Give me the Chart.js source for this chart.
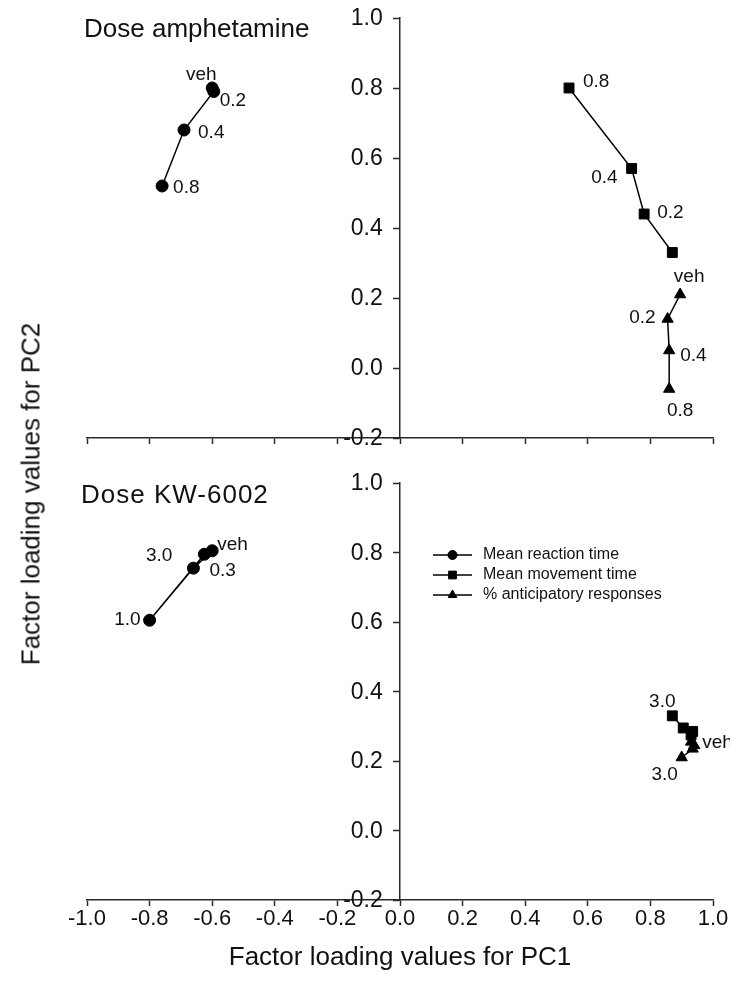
<!DOCTYPE html>
<html>
<head>
<meta charset="utf-8">
<script src="https://cdn.jsdelivr.net/npm/chart.js@4.4.1/dist/chart.umd.min.js"></script>
<style>
  html, body { margin:0; padding:0; background:#fff; width:730px; height:1001px; overflow:hidden;
    font-family:"Liberation Sans", Arial, Helvetica, sans-serif; color:#111; }
  canvas { position:absolute; left:0; }
  #cTop { top:0; }
  #cBot { top:460px; }
  .ptitle { position:absolute; font-size:26px; line-height:30px; white-space:nowrap; }
  #ytitle { position:absolute; left:31px; top:494px; font-size:26px; white-space:nowrap;
    transform: translate(-50%, -50%) rotate(-90deg); }
</style>
</head>
<body>
<canvas id="cTop" width="730" height="460"></canvas>
<canvas id="cBot" width="730" height="541"></canvas>
<div class="ptitle" style="left:84px; top:13px;">Dose amphetamine</div>
<div class="ptitle" style="left:81px; top:479px; letter-spacing:1px;">Dose KW-6002</div>
<div id="ytitle">Factor loading values for PC2</div>
<script>
// ---------- data ----------
const doseAmph = ['veh', '0.2', '0.4', '0.8'];
const doseKW   = ['veh', '0.3', '1.0', '3.0'];
const seriesNames = ['Mean reaction time', 'Mean movement time', '% anticipatory responses'];

const amphRT_pc1 = [-0.60, -0.595, -0.69, -0.76];
const amphRT_pc2 = [0.80, 0.79, 0.68, 0.52];
const amphMT_pc1 = [0.87, 0.78, 0.74, 0.54];
const amphMT_pc2 = [0.33, 0.44, 0.57, 0.80];
const amphAR_pc1 = [0.895, 0.855, 0.86, 0.86];
const amphAR_pc2 = [0.21, 0.14, 0.05, -0.06];

const kwRT_pc1 = [-0.60, -0.66, -0.80, -0.625];
const kwRT_pc2 = [0.805, 0.755, 0.605, 0.795];
const kwMT_pc1 = [0.935, 0.93, 0.905, 0.87];
const kwMT_pc2 = [0.285, 0.275, 0.295, 0.33];
const kwAR_pc1 = [0.94, 0.93, 0.935, 0.90];
const kwAR_pc2 = [0.245, 0.255, 0.235, 0.21];

const xTickRange = [-1.0, 1.0, 0.2];
const yTickRange = [-0.2, 1.0, 0.2];

// ---------- styling ----------
const FONT = '"Liberation Sans", Arial, Helvetica, sans-serif';
const INK = '#111';
const AXIS = '#2a2a2a';
const pointStyles = ['circle', 'rect', 'triangle'];
const pointRadii = [6, 7, 6.5];
const yLabelAnchor = -0.055;   // where the y tick labels end (in PC1 units), left of the axis

// label offsets per series per dose: [dx, dy, align]
const amphLabelPos = [
  [[-11, -13, 'center'], [6, 9, 'left'], [14, 3, 'left'], [11, 2, 'left']],
  [null, [13, -1, 'left'], [-14, 9, 'right'], [14, -6, 'left']],
  [[9, -18, 'center'], [-12, -1, 'right'], [11, 5, 'left'], [11, 22, 'center']]
];
const kwLabelPos = [
  [[5, -6, 'left'], [16, 3, 'left'], [-9, 0, 'right'], [-32, 2, 'right']],
  [null, null, null, [-10, -14, 'center']],
  [[8, -3, 'left'], null, null, [-17, 17, 'center']]
];

function toPts(xs, ys) { return xs.map((x, i) => ({ x: x, y: ys[i] })); }
function fmt(v) { if (Math.abs(v) < 1e-9) v = 0; return v.toFixed(1); }
function noPad(s) { s.paddingTop = 0; s.paddingBottom = 0; s.paddingLeft = 0; s.paddingRight = 0; }

function makeDatasets(sets) {
  return sets.map((s, i) => ({
    label: seriesNames[i],
    data: toPts(s[0], s[1]),
    showLine: true,
    borderColor: '#000',
    borderWidth: 1.5,
    backgroundColor: '#000',
    pointStyle: pointStyles[i],
    pointRadius: pointRadii[i],
    pointHoverRadius: pointRadii[i],
    pointBorderWidth: 1,
    pointBackgroundColor: '#000',
    pointBorderColor: '#000'
  }));
}

const labelPlugin = {
  id: 'pointLabels',
  afterDatasetsDraw(chart, args, opts) {
    const ctx = chart.ctx, xs = chart.scales.x, ys = chart.scales.y;
    ctx.save();
    ctx.font = opts.size + 'px ' + FONT;
    ctx.fillStyle = INK;
    ctx.textBaseline = 'middle';
    chart.data.datasets.forEach((ds, di) => {
      const offs = opts.offsets[di];
      ds.data.forEach((p, i) => {
        const o = offs[i];
        if (!o) return;
        ctx.textAlign = o[2];
        ctx.fillText(opts.labels[i], xs.getPixelForValue(p.x) + o[0], ys.getPixelForValue(p.y) + o[1]);
      });
    });
    ctx.restore();
  }
};

const legendPlugin = {
  id: 'lineLegend',
  afterDraw(chart, args, opts) {
    if (!opts.show) return;
    const ctx = chart.ctx;
    chart.data.datasets.forEach((ds, i) => {
      const y = opts.y + i * opts.gap;
      ctx.save();
      ctx.strokeStyle = '#000';
      ctx.lineWidth = 1.5;
      ctx.beginPath();
      ctx.moveTo(opts.x, y);
      ctx.lineTo(opts.x + opts.len, y);
      ctx.stroke();
      ctx.fillStyle = '#000';
      ctx.lineWidth = 1;
      Chart.helpers.drawPoint(ctx, { pointStyle: ds.pointStyle, radius: opts.r[i], borderWidth: 1, rotation: 0 },
        opts.x + opts.len / 2, y);
      ctx.font = opts.size + 'px ' + FONT;
      ctx.fillStyle = INK;
      ctx.textAlign = 'left';
      ctx.textBaseline = 'middle';
      ctx.fillText(ds.label, opts.x + opts.len + 11, y);
      ctx.restore();
    });
  }
};

function scalesFor(showX) {
  const grid = { drawOnChartArea: false, drawTicks: true, tickLength: 6, tickColor: AXIS, tickWidth: 1.5 };
  const border = { display: true, color: AXIS, width: 1.5 };
  return {
    x: {
      type: 'linear', position: 'bottom', min: xTickRange[0], max: xTickRange[1],
      ticks: { stepSize: xTickRange[2], display: showX, color: INK, font: { family: FONT, size: 22 },
        padding: 0, maxRotation: 0, autoSkip: false, callback: fmt },
      grid: grid, border: border,
      title: showX ? { display: true, text: 'Factor loading values for PC1', color: INK,
        font: { family: FONT, size: 26 }, padding: { top: 0, bottom: 28 } } : { display: false },
      afterFit: s => { s.height = showX ? 101 : 10; noPad(s); }
    },
    // axis line + tick marks at PC1 = 0
    y: {
      type: 'linear', position: { x: 0 }, min: yTickRange[0], max: yTickRange[1],
      ticks: { stepSize: yTickRange[2], display: false },
      grid: grid, border: border,
      afterFit: noPad
    },
    // tick labels, right-aligned just left of the axis
    yLab: {
      type: 'linear', position: { x: yLabelAnchor }, min: yTickRange[0], max: yTickRange[1],
      ticks: { stepSize: yTickRange[2], color: INK, font: { family: FONT, size: 23 }, padding: 0,
        labelOffset: 1, callback: fmt },
      grid: { display: false }, border: { display: false },
      afterFit: noPad
    }
  };
}

function makeChart(id, sets, doses, labelPos, showX, padding, legend) {
  return new Chart(document.getElementById(id), {
    type: 'scatter',
    data: { datasets: makeDatasets(sets) },
    options: {
      responsive: false, animation: false, devicePixelRatio: 1,
      layout: { padding: padding },
      scales: scalesFor(showX),
      plugins: {
        legend: { display: false }, tooltip: { enabled: false },
        pointLabels: { labels: doses, offsets: labelPos, size: 19 },
        lineLegend: legend
      }
    },
    plugins: [labelPlugin, legendPlugin]
  });
}

makeChart('cTop',
  [[amphRT_pc1, amphRT_pc2], [amphMT_pc1, amphMT_pc2], [amphAR_pc1, amphAR_pc2]],
  doseAmph, amphLabelPos, false,
  { left: 87, right: 17, top: 18, bottom: 12 },
  { show: false });

makeChart('cBot',
  [[kwRT_pc1, kwRT_pc2], [kwMT_pc1, kwMT_pc2], [kwAR_pc1, kwAR_pc2]],
  doseKW, kwLabelPos, true,
  { left: 87, right: 17, top: 23, bottom: 0 },
  { show: true, x: 433, y: 95, gap: 20, len: 39, r: [4.5, 5.5, 5], size: 16 });
</script>
</body>
</html>
